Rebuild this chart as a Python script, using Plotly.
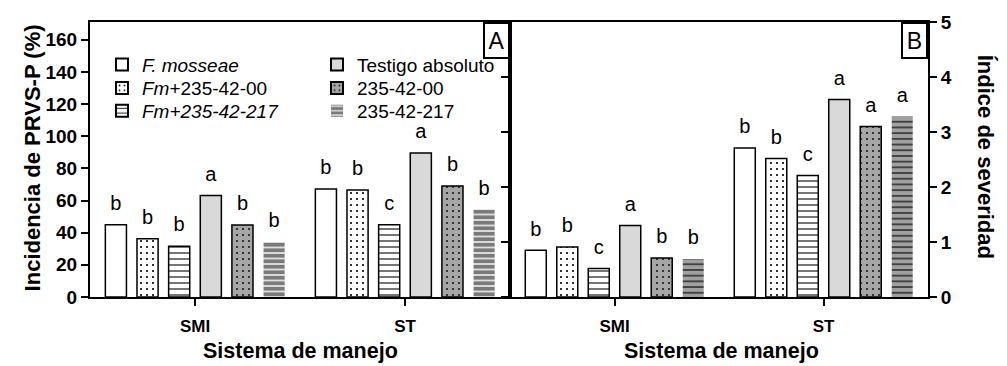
import plotly.graph_objects as go

categories = ["SMI", "ST"]

series_names = ["<i>F. mosseae</i>", "<i>Fm</i>+235-42-00", "<i>Fm+235-42-217</i>",
                "Testigo absoluto", "235-42-00", "235-42-217"]

# Panel A: Incidencia de PRVS-P (%)
inc_fm = [45.0, 67.2]
inc_fm00 = [36.2, 66.6]
inc_fm217 = [31.6, 45.0]
inc_testigo = [63.1, 89.6]
inc_00 = [44.8, 69.0]
inc_217 = [34.2, 54.4]
incidencia = [inc_fm, inc_fm00, inc_fm217, inc_testigo, inc_00, inc_217]
inc_letters = [["b", "b"], ["b", "b"], ["b", "c"], ["a", "a"], ["b", "b"], ["b", "b"]]

# Panel B: Indice de severidad
sev_fm = [0.85, 2.71]
sev_fm00 = [0.91, 2.52]
sev_fm217 = [0.52, 2.21]
sev_testigo = [1.30, 3.59]
sev_00 = [0.71, 3.10]
sev_217 = [0.69, 3.28]
severidad = [sev_fm, sev_fm00, sev_fm217, sev_testigo, sev_00, sev_217]
sev_letters = [["b", "b"], ["b", "b"], ["c", "c"], ["a", "a"], ["b", "a"], ["b", "a"]]

FONT = "Liberation Sans, Arial, sans-serif"

def pat(shape, fg, bg, size, solidity):
    return dict(shape=shape, fgcolor=fg, bgcolor=bg, size=size, solidity=solidity,
                fillmode="replace", fgopacity=1)

def style(i, panel):
    line = dict(color="black", width=1.5)
    if i == 0:
        return dict(color="white", line=line)
    if i == 1:
        return dict(color="white", line=line, pattern=pat(".", "black", "white", 6, 0.1))
    if i == 2:
        return dict(color="white", line=line, pattern=pat("-", "black", "white", 6, 0.18))
    if i == 3:
        return dict(color="#d9d9d9", line=line)
    if i == 4:
        return dict(color="#a6a6a6", line=line, pattern=pat(".", "#1a1a1a", "#a6a6a6", 6, 0.1))
    if panel == "A":
        return dict(color="white", line=dict(width=0), pattern=pat("-", "#7a7a7a", "white", 5.5, 0.75))
    return dict(color="#9c9c9c", line=dict(width=0), pattern=pat("-", "#111111", "#a0a0a0", 5.7, 0.22))

legend_ids = ["legend", "legend2", "legend3", "legend4", "legend5", "legend6"]

fig = go.Figure()

for i, name in enumerate(series_names):
    fig.add_trace(go.Bar(
        x=categories, y=incidencia[i], name=name, marker=style(i, "A"),
        xaxis="x", yaxis="y", legend=legend_ids[i],
    ))
for i, name in enumerate(series_names):
    fig.add_trace(go.Bar(
        x=categories, y=severidad[i], name=name, marker=style(i, "B"),
        xaxis="x2", yaxis="y2", showlegend=False,
    ))

# significance letters, grouped like the bars (scattermode="group");
# a transparent marker keeps the letter a little above the bar top
letter_font = dict(family=FONT, size=20, color="black")
ghost = dict(size=14, color="rgba(0,0,0,0)")
for i in range(6):
    fig.add_trace(go.Scatter(
        x=categories, y=incidencia[i], text=inc_letters[i], mode="markers+text",
        marker=ghost, textposition="top center", textfont=letter_font, cliponaxis=False,
        xaxis="x", yaxis="y", showlegend=False, hoverinfo="skip",
    ))
for i in range(6):
    fig.add_trace(go.Scatter(
        x=categories, y=severidad[i], text=sev_letters[i], mode="markers+text",
        marker=ghost, textposition="top center", textfont=letter_font, cliponaxis=False,
        xaxis="x2", yaxis="y2", showlegend=False, hoverinfo="skip",
    ))

split = 420 / 838
tickfont = dict(family=FONT, size=19, color="black", weight="bold")
xtickfont = dict(family=FONT, size=17, color="black", weight="bold")

axis_common = dict(showline=True, linecolor="black", linewidth=2, ticks="outside",
                   ticklen=7, tickwidth=2, tickcolor="black", showgrid=False, zeroline=False)

legend_font = dict(family=FONT, size=19, color="black")
col_x = [0.0143, 0.2709]
row_y = [0.914, 0.829, 0.746]
legends = {}
for i, lid in enumerate(legend_ids):
    legends[lid] = dict(x=col_x[i // 3], y=row_y[i % 3], xanchor="left", yanchor="top",
                        bgcolor="rgba(0,0,0,0)", font=legend_font, tracegroupgap=0,
                        itemsizing="constant")

fig.update_layout(
    width=1007, height=366,
    margin=dict(l=90, r=79, t=17, b=69),
    paper_bgcolor="white", plot_bgcolor="white",
    barmode="group", bargap=0.096, bargroupgap=0.333,
    scattermode="group", scattergap=0.096,
    font=dict(family=FONT, color="black"),
    xaxis=dict(domain=[0, split], anchor="y", mirror=True, tickfont=xtickfont,
               range=[-0.5, 1.5], ticklabelstandoff=6, **axis_common),
    yaxis=dict(domain=[0, 1], anchor="x", range=[0, 171], tickvals=[0, 20, 40, 60, 80, 100, 120, 140, 160],
               mirror=True, tickfont=tickfont, **axis_common),
    xaxis2=dict(domain=[split, 1], anchor="y2", mirror=True, tickfont=xtickfont,
                range=[-0.5, 1.5], ticklabelstandoff=6, **axis_common),
    yaxis2=dict(domain=[0, 1], anchor="x2", side="right", range=[0, 5], dtick=1,
                mirror="ticks", tickfont=tickfont, **axis_common),
    yaxis3=dict(overlaying="y2", anchor="x2", side="left", range=[0, 5], dtick=1,
                showticklabels=False, ticks="inside", ticklen=6, tickwidth=2, tickcolor="black",
                showline=False, showgrid=False, zeroline=False),
    showlegend=True,
    **legends,
)

title_font = dict(family=FONT, size=22, weight="bold", color="black")
annotations = [
    dict(text="Incidencia de PRVS-P (%)", xref="paper", yref="paper", x=(32 - 90) / 838, y=0.504,
         xanchor="center", yanchor="middle", textangle=-90, showarrow=False, font=title_font),
    dict(text="Índice de severidad", xref="paper", yref="paper", x=(985 - 90) / 838, y=0.51,
         xanchor="center", yanchor="middle", textangle=90, showarrow=False, font=title_font),
    dict(text="Sistema de manejo", xref="paper", yref="paper", x=(300 - 90) / 838, y=-0.196,
         xanchor="center", yanchor="middle", showarrow=False, font=dict(title_font, size=21.5)),
    dict(text="Sistema de manejo", xref="paper", yref="paper", x=(721 - 90) / 838, y=-0.196,
         xanchor="center", yanchor="middle", showarrow=False, font=dict(title_font, size=21.5)),
    dict(text="A", xref="paper", yref="paper", x=split, y=1, xanchor="right", yanchor="top",
         showarrow=False, font=dict(family=FONT, size=23), bordercolor="black", borderwidth=2,
         borderpad=3, bgcolor="white", width=17, height=27),
    dict(text="B", xref="paper", yref="paper", x=1, y=1, xanchor="right", yanchor="top",
         showarrow=False, font=dict(family=FONT, size=23), bordercolor="black", borderwidth=2,
         borderpad=3, bgcolor="white", width=17, height=27),
]
fig.update_layout(annotations=annotations)

fig.write_html("out.html", config={"displayModeBar": False},
               post_script="document.body.style.margin='0';document.body.style.padding='0';")
